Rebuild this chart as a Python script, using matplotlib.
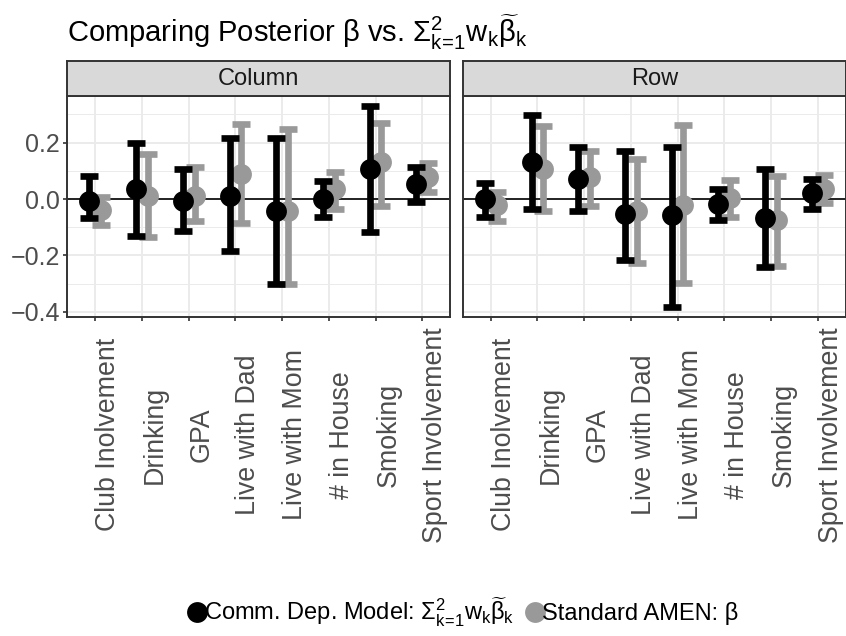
import matplotlib
matplotlib.use("Agg")
import matplotlib.pyplot as plt
import numpy as np
from matplotlib.lines import Line2D

plt.rcParams['font.family'] = ['Liberation Sans', 'DejaVu Sans']
plt.rcParams['mathtext.fontset'] = 'custom'
plt.rcParams['mathtext.rm'] = 'Liberation Sans'
plt.rcParams['mathtext.it'] = 'Liberation Sans'
plt.rcParams['mathtext.bf'] = 'Liberation Sans:bold'
plt.rcParams['mathtext.sf'] = 'Liberation Sans'

# ---------------- data ----------------
categories = ["Club Inolvement", "Drinking", "GPA", "Live with Dad",
              "Live with Mom", "# in House", "Smoking", "Sport Involvement"]
panels = ["Column", "Row"]

# Comm. Dep. Model (black)
col_dep_est = [-0.006, 0.035, -0.006, 0.012, -0.041, 0.000, 0.106, 0.053]
col_dep_lo = [-0.067, -0.130, -0.115, -0.183, -0.303, -0.062, -0.118, -0.009]
col_dep_hi = [0.082, 0.200, 0.106, 0.218, 0.218, 0.065, 0.330, 0.115]
row_dep_est = [0.000, 0.130, 0.071, -0.053, -0.057, -0.018, -0.068, 0.020]
row_dep_lo = [-0.065, -0.035, -0.041, -0.218, -0.383, -0.073, -0.241, -0.035]
row_dep_hi = [0.057, 0.297, 0.186, 0.171, 0.186, 0.035, 0.106, 0.071]

# Standard AMEN (grey)
col_amen_est = [-0.039, 0.012, 0.012, 0.088, -0.041, 0.035, 0.130, 0.077]
col_amen_lo = [-0.091, -0.135, -0.077, -0.086, -0.303, -0.035, -0.024, 0.026]
col_amen_hi = [0.006, 0.159, 0.112, 0.265, 0.250, 0.097, 0.271, 0.127]
row_amen_est = [-0.020, 0.108, 0.077, -0.041, -0.021, 0.002, -0.073, 0.035]
row_amen_lo = [-0.077, -0.041, -0.024, -0.226, -0.297, -0.065, -0.238, -0.014]
row_amen_hi = [0.026, 0.259, 0.171, 0.141, 0.261, 0.068, 0.082, 0.085]

yticks = [-0.4, -0.2, 0.0, 0.2]
ytick_labels = ["\u22120.4", "\u22120.2", "0.0", "0.2"]
minor_yticks = [-0.3, -0.1, 0.1, 0.3]

series_labels = [r"Comm. Dep. Model: $\Sigma_{k\!=\!1}^{2}w_{k}\widetilde{\beta}_{k}$",
                 "Standard AMEN: \u03b2"]
title = r"Comparing Posterior $\beta$ vs. $\Sigma_{k\!=\!1}^{2}w_{k}\widetilde{\beta}_{k}$"

# ---------------- style ----------------
BLACK = "#000000"
GREY = "#999999"
GRID = "#EBEBEB"
BORDER = "#333333"
TXT = "#4D4D4D"
FS = 17
FS_X = 19.3
FS_Y = 18

W, H = 846, 636
fig = plt.figure(figsize=(W / 100, H / 100), dpi=100)

panel_left = [67.3, 462.7]
panel_w = 383.0
panel_top, panel_bot = 96.0, 317.0
strip_top = 61.0

data = {
    "Column": (col_dep_est, col_dep_lo, col_dep_hi, col_amen_est, col_amen_lo, col_amen_hi),
    "Row": (row_dep_est, row_dep_lo, row_dep_hi, row_amen_est, row_amen_lo, row_amen_hi),
}

all_vals = col_dep_lo + col_dep_hi + row_dep_lo + row_dep_hi + col_amen_lo + col_amen_hi + row_amen_lo + row_amen_hi
ymin, ymax = min(all_vals), max(all_vals)
pad = 0.05 * (ymax - ymin)
ylim = (ymin - pad, ymax + pad)

x = np.arange(1, len(categories) + 1)
dodge = 0.125
lw = 4.8
ms = 15
capsize = 6.6

for i, pname in enumerate(panels):
    l = panel_left[i]
    ax = fig.add_axes([l / W, 1 - panel_bot / H, panel_w / W, (panel_bot - panel_top) / H])
    ax.set_facecolor("white")
    de, dl, dh, ae, al, ah = [np.array(v) for v in data[pname]]

    ax.set_xlim(0.4, len(categories) + 0.6)
    ax.set_ylim(*ylim)
    ax.set_xticks(x)
    ax.set_xticklabels(categories, rotation=90, ha="left", va="center",
                       fontsize=FS_X, color=TXT, rotation_mode="default")
    ax.set_yticks(yticks)
    ax.set_yticks(minor_yticks, minor=True)
    if i == 0:
        ax.set_yticklabels(ytick_labels, fontsize=FS_Y, color=TXT)
    else:
        ax.set_yticklabels([])
    ax.tick_params(axis="x", length=4 / 1.389, width=1.2, color=BORDER, pad=82)
    ax.tick_params(axis="y", which="major", length=4 / 1.389, width=1.2, color=BORDER, pad=2.2,
                   left=(i == 0))
    ax.tick_params(axis="y", which="minor", length=0)
    ax.grid(True, which="major", color=GRID, lw=1.4, zorder=0)
    ax.grid(True, which="minor", axis="y", color=GRID, lw=0.7, zorder=0)
    ax.set_axisbelow(True)
    for s in ax.spines.values():
        s.set_color(BORDER)
        s.set_linewidth(1.4)
        s.set_zorder(10)

    ax.axhline(0, color="black", lw=1.2, zorder=1)

    # grey (Standard AMEN)
    ax.errorbar(x + dodge, ae, yerr=[ae - al, ah - ae], fmt="none", ecolor=GREY,
                elinewidth=lw, capsize=capsize, capthick=lw, zorder=2)
    ax.plot(x + dodge, ae, "o", color=GREY, ms=ms, mec="none", zorder=3)
    # black (Comm. Dep. Model)
    ax.errorbar(x - dodge, de, yerr=[de - dl, dh - de], fmt="none", ecolor=BLACK,
                elinewidth=lw, capsize=capsize, capthick=lw, zorder=4)
    ax.plot(x - dodge, de, "o", color=BLACK, ms=ms, mec="none", zorder=5)

    # strip
    sax = fig.add_axes([l / W, 1 - panel_top / H, panel_w / W, (panel_top - strip_top) / H])
    sax.set_facecolor("#D9D9D9")
    sax.set_xticks([])
    sax.set_yticks([])
    for s in sax.spines.values():
        s.set_color(BORDER)
        s.set_linewidth(1.4)
    sax.text(0.5, 0.48, pname, ha="center", va="center", fontsize=FS, color="#1A1A1A",
             transform=sax.transAxes)

fig.text(67 / W, 1 - 42 / H, title, ha="left", va="baseline", fontsize=21, color="black")

handles = [Line2D([], [], marker="o", ls="", color=BLACK, ms=ms, mec="none"),
           Line2D([], [], marker="o", ls="", color=GREY, ms=ms, mec="none")]
fig.legend(handles, series_labels, loc="center", bbox_to_anchor=(464 / W, 1 - 612 / H),
           ncol=2, frameon=False, fontsize=FS, handlelength=0.6, handletextpad=0.0,
           columnspacing=0.6, borderpad=0, borderaxespad=0)

fig.savefig("out.png", dpi=100, facecolor="white")
